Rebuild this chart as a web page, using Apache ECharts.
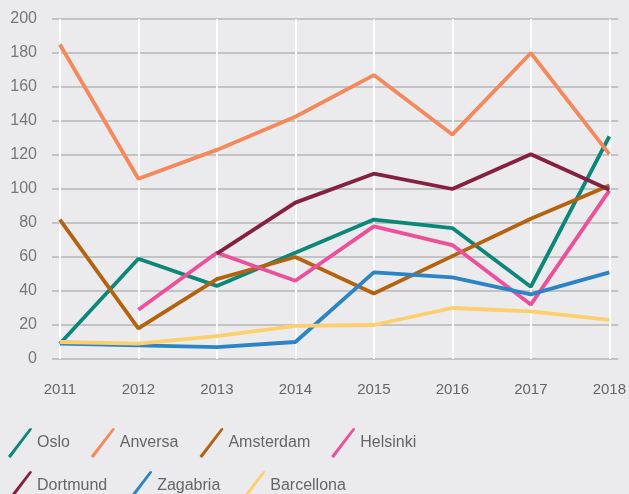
<!DOCTYPE html>
<html>
<head>
<meta charset="utf-8">
<script src="https://cdn.jsdelivr.net/npm/echarts@6/dist/echarts.min.js"></script>
<style>
  html, body { margin: 0; padding: 0; background: #ebebed; }
  #chart { width: 629px; height: 494px; }
</style>
</head>
<body>
<div id="chart"></div>
<script>
// Years on the horizontal axis
const years = [2011, 2012, 2013, 2014, 2015, 2016, 2017, 2018];

// One array per city (null = no value for that year)
const oslo       = [9, 59, 43, 62.5, 82, 77, 42.5, 131];
const anversa    = [185, 106, 123, 142.5, 167, 132, 180, 120.5];
const amsterdam  = [82, 18, 47, 60, 38.5, 60.5, 82.5, 102];
const helsinki   = [null, 29, 62.5, 46, 78, 67, 32, 99];
const dortmund   = [null, null, 62, 92, 109, 100, 120.5, 99.5];
const zagabria   = [9, 8, 7, 10, 51, 48, 38, 51];
const barcellona = [10, 9, 13.5, 19.5, 20, 30, 28, 23];

const cities = ['Oslo', 'Anversa', 'Amsterdam', 'Helsinki', 'Dortmund', 'Zagabria', 'Barcellona'];
const values = [oslo, anversa, amsterdam, helsinki, dortmund, zagabria, barcellona];
const colors = ['#0b877a', '#f5895c', '#b5620f', '#ee4f9a', '#86203f', '#2b84c6', '#fecf6c'];

const legendIcon = 'path://M1.5,29 L0,27.5 L21,0.5 L23,0 L23.5,1.5 L2.5,29.5 Z';
const labelFont = "'Liberation Sans', Arial, sans-serif";

const series = cities.map((name, i) => ({
  name: name,
  type: 'line',
  symbol: 'none',
  data: years.map((y, k) => [y, values[i][k]]),
  connectNulls: false,
  lineStyle: { width: 3.8, color: colors[i] },
  itemStyle: { color: colors[i] },
  emphasis: { disabled: true }
}));

const legendBase = {
  left: 3,
  orient: 'horizontal',
  icon: legendIcon,
  itemWidth: 24,
  itemHeight: 30,
  itemGap: 21,
  textStyle: { fontSize: 16, color: '#666', fontFamily: labelFont },
  selectedMode: false
};

const chart = echarts.init(document.getElementById('chart'), null, { renderer: 'canvas' });
chart.setOption({
  backgroundColor: '#ebebed',
  animation: false,
  color: colors,
  grid: { left: 52, right: 10, top: 19, bottom: 135, containLabel: false },
  legend: [
    Object.assign({}, legendBase, { top: 423, data: cities.slice(0, 4) }),
    Object.assign({}, legendBase, { top: 466, data: cities.slice(4) })
  ],
  xAxis: {
    type: 'value',
    min: 2010.9,
    max: 2018.115,
    axisLine: { show: false },
    axisTick: { show: false, customValues: years },
    axisLabel: {
      customValues: years,
      color: '#666',
      fontSize: 15,
      fontFamily: labelFont,
      margin: 23,
      formatter: v => String(Math.round(v))
    },
    splitLine: { show: true, lineStyle: { color: '#ffffff', width: 2 } }
  },
  yAxis: {
    type: 'value',
    min: 0,
    max: 200,
    interval: 20,
    axisLine: { show: false },
    axisTick: { show: false },
    axisLabel: { color: '#777', fontSize: 16, fontFamily: labelFont, margin: 15 },
    splitLine: { show: true, lineStyle: { color: '#c3c3c5', width: 2 } }
  },
  series: series
});
</script>
</body>
</html>
